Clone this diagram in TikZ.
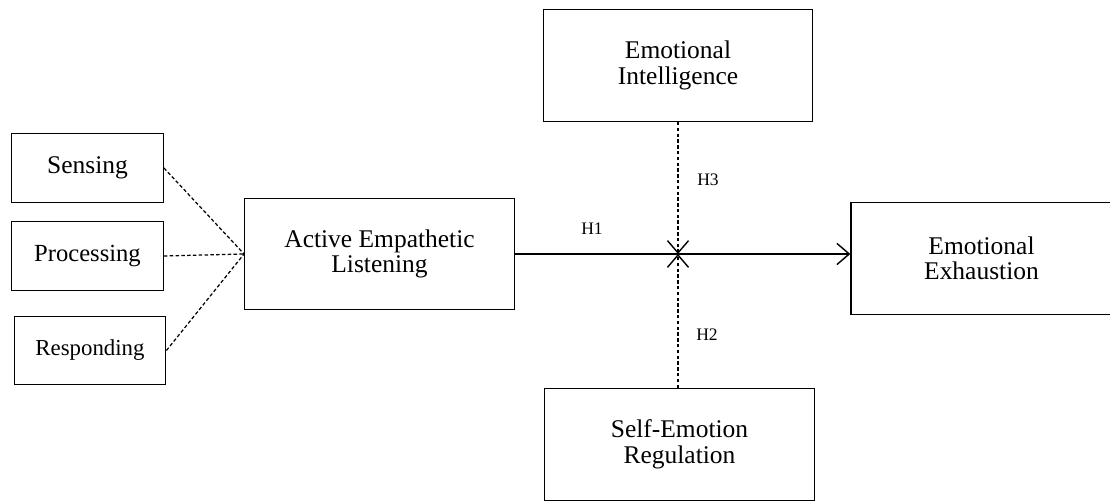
\documentclass[tikz,border=0pt]{standalone}
\usepackage{fontspec}
\setmainfont{Liberation Serif}
\usetikzlibrary{arrows.meta}

\tikzset{
  box/.style={draw, line width=0.8pt, inner sep=0pt, align=center,
    font=\fontsize{14.5}{14.5}\selectfont},
  dimbox/.style={box, minimum width=3.03cm, minimum height=1.37cm},
  bigbox/.style={box, minimum width=5.39cm, minimum height=2.23cm},
  hyp/.style={font=\fontsize{10}{12}\selectfont},
  link/.style={dash pattern=on 2pt off 1.3pt, line width=0.7pt},
  tip/.style={-{Straight Barb[length=7pt,width=12pt,line width=0.8pt]}}
}

\begin{document}
\begin{tikzpicture}[x=0.02cm, y=-0.02cm]
    \useasboundingbox (0,0) rectangle (1110,502);

    % dimensions of listening
    \node[dimbox] (sensing) at (87.5,168) {Sensing};
    \node[dimbox, font=\fontsize{14}{14}\selectfont] (processing) at (87.5,256) {Processing};
    \node[dimbox, font=\fontsize{13}{13}\selectfont] (responding) at (90,350.5) {Responding};

    % constructs
    \node[bigbox] (ael) at (379.5,254) {Active Empathetic\\Listening};
    \node[bigbox] (ei) at (678,65.5) {Emotional\\Intelligence};
    \node[bigbox] (ser) at (679.5,444.5) {Self-Emotion\\Regulation};
    \node[bigbox, minimum width=5.22cm] (ee) at (981.5,258.5) {Emotional\\Exhaustion};

    \coordinate (hub) at (678,254);

    \draw[link] (sensing.east) -- (ael.west);
    \draw[link] (processing.east) -- (ael.west);
    \draw[link] (responding.east) -- (ael.west);

    \draw[line width=0.8pt, tip] (ael.east) -- (ee.west |- ael.east);
    \draw[link, tip] (ei.south) -- (hub);
    \draw[link, tip] (ser.north -| hub) -- (hub);

    \node[hyp] (h1) at (592,229) {H1};
    \node[hyp] (h3) at (708,180) {H3};
    \node[hyp] (h2) at (707,335) {H2};
  \end{tikzpicture}
\end{document}
